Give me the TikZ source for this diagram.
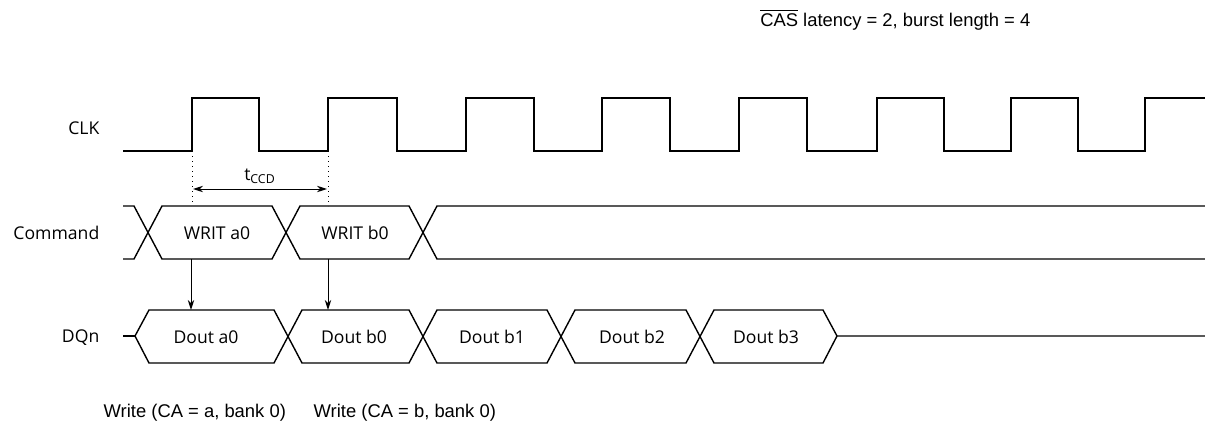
\documentclass[tikz,border=0pt]{standalone}
\usepackage{fontspec}
\setmainfont{Liberation Sans}
\newfontfamily\sigfont{Open Sans}
\usetikzlibrary{arrows.meta}

\begin{document}
\begin{tikzpicture}[x=0.5pt, y=-0.5pt, line width=0.7pt,
		sig/.style={font=\sigfont\fontsize{8.8}{10}\selectfont, inner sep=0pt},
		note/.style={font=\fontsize{9.2}{11}\selectfont, inner sep=0pt},
		tick/.style={dotted, line width=0.5pt},
		sigarrow/.style={-{Stealth[length=5pt, width=3.2pt]}, line width=0.5pt}]
			%%%%% START %%%%%
			\useasboundingbox (0, 0) rectangle (1205, 423);
			
			\node[note, anchor=east] (cond) at (1031, 20) {$\overline{\mbox{CAS}}$ latency = 2, burst length = 4};
			
			% clock
			\node[sig, anchor=east] (clk) at (100, 128) {CLK};
			\draw (123, 151) -- (192, 151) -- (192, 98) -- (259, 98) -- (259, 151) -- (328, 151) -- (328, 98) -- (397, 98) -- (397, 151) -- (466, 151) -- (466, 98) -- (534, 98) -- (534, 151) -- (602, 151) -- (602, 98) -- (670, 98) -- (670, 151) -- (739, 151) -- (739, 98) -- (807, 98) -- (807, 151) -- (877, 151) -- (877, 98) -- (944, 98) -- (944, 151) -- (1011, 151) -- (1011, 98) -- (1078, 98) -- (1078, 151) -- (1145, 151) -- (1145, 98) -- (1205, 98);
			
			\coordinate (edgeA) at (192, 151);
			\coordinate (edgeB) at (328, 151);
			\coordinate (tickA) at (192, 204);
			\coordinate (tickB) at (328, 206);
			\draw[tick] (edgeA) -- (tickA);
			\draw[tick] (edgeB) -- (tickB);
			
			\coordinate (ccdA) at (193, 189);
			\coordinate (ccdB) at (327, 189);
			\draw[{Stealth[length=5pt, width=3.2pt]}-{Stealth[length=5pt, width=3.2pt]}, line width=0.5pt] (ccdA) -- (ccdB);
			\node[sig] (tccd) at (260, 176) {t\textsubscript{CCD}};
			
			% command bus
			\node[sig, anchor=east] (cmd) at (100, 233) {Command};
			\draw (123, 206) -- (134, 206) -- (162, 259) -- (272, 259) -- (300, 206) -- (409, 206) -- (437, 259) -- (1205, 259);
			\draw (123, 259) -- (134, 259) -- (162, 206) -- (272, 206) -- (300, 259) -- (409, 259) -- (437, 206) -- (1205, 206);
			\node[sig] (writa) at (217, 233) {WRIT a0};
			\node[sig] (writb) at (355, 233) {WRIT b0};
			
			\coordinate (cmdA) at (191, 259);
			\coordinate (cmdB) at (328, 259);
			\coordinate (dqA) at (191, 310);
			\coordinate (dqB) at (328, 310);
			\draw[sigarrow] (cmdA) -- (dqA);
			\draw[sigarrow] (cmdB) -- (dqB);
			
			% data bus
			\node[sig, anchor=east] (dqn) at (100, 338) {DQn};
			\draw (123, 336) -- (135, 336);
			\draw (135, 336) -- (149, 310) -- (274, 310) -- (302, 363) -- (409, 363) -- (437, 310) -- (547, 310) -- (575, 363) -- (686, 363) -- (714, 310) -- (823, 310) -- (837, 336) -- (1205, 336);
			\draw (135, 336) -- (149, 363) -- (274, 363) -- (302, 310) -- (409, 310) -- (437, 363) -- (547, 363) -- (575, 310) -- (686, 310) -- (714, 363) -- (823, 363) -- (837, 336);
			\node[sig] (douta0) at (206, 337) {Dout a0};
			\node[sig] (doutb0) at (354, 337) {Dout b0};
			\node[sig] (doutb1) at (492, 337) {Dout b1};
			\node[sig] (doutb2) at (632, 337) {Dout b2};
			\node[sig] (doutb3) at (766, 337) {Dout b3};
			
			\node[note, anchor=west] (wra) at (103, 413) {Write (CA = a, bank 0)};
			\node[note, anchor=west] (wrb) at (313, 413) {Write (CA = b, bank 0)};
			
			%%%%% END %%%%%
\end{tikzpicture}
\end{document}
